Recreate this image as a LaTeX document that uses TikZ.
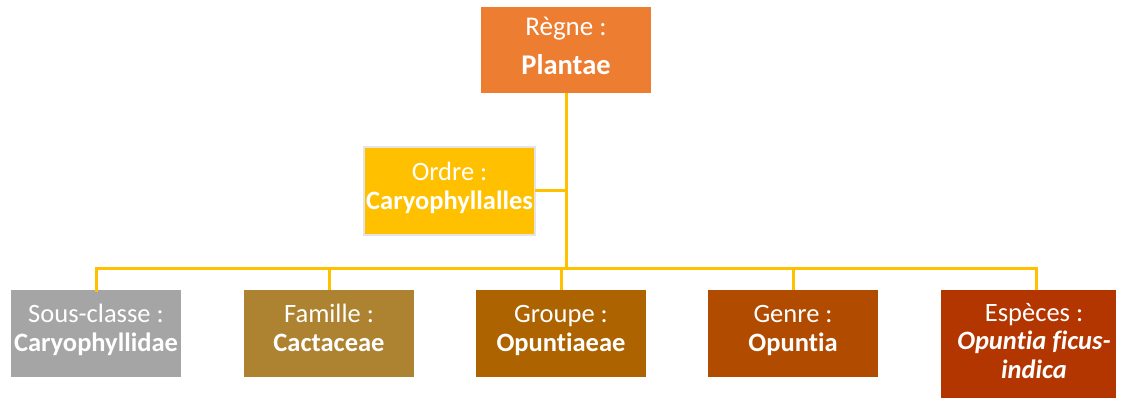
\documentclass[tikz,border=0pt]{standalone}
\usepackage{fontspec}
\setmainfont{Carlito}[Ligatures=NoCommon]
\definecolor{cOrange}{HTML}{ED7D31}
\definecolor{cGold}{HTML}{FFC000}
\definecolor{cGray}{HTML}{A5A5A5}
\definecolor{cFam}{HTML}{AD8231}
\definecolor{cGrp}{HTML}{AD6300}
\definecolor{cGen}{HTML}{B04B00}
\definecolor{cEsp}{HTML}{B33600}
\definecolor{cLine}{HTML}{FFC000}
\definecolor{cBord}{HTML}{E4E4E4}
\tikzset{
  box/.style={rectangle, inner sep=0pt, outer sep=0pt},
  lbl/.style={inner sep=0pt, outer sep=0pt, text=white, align=center, anchor=base,
    font=\fontsize{26.5}{28.5}\selectfont},
  conn/.style={draw=cLine, line width=3pt}
}
\begin{document}
\begin{tikzpicture}[x=1pt,y=-1pt]
\useasboundingbox (0,0) rectangle (1121,398);
% top
\node[box, fill=cOrange, minimum width=170pt, minimum height=86pt] (plantae) at (566,50) {};
\node[lbl] (plantaetxt) at (566,75)
  {{\fontsize{27}{29}\selectfont R\`egne :}\\[11pt]{\fontsize{28.5}{29}\selectfont\bfseries Plantae}};
\node[box, fill=cGold, draw=cBord, line width=2.5pt, minimum width=171pt, minimum height=88pt] (ordre) at (449.5,191) {};
\node[lbl] (ordretxt) at (449.5,209) {Ordre :\\{\bfseries Caryophyllalles}};
% bottom
\node[box, fill=cGray, minimum width=170pt, minimum height=87pt] (sc) at (96,333.5) {};
\node[lbl] (sctxt) at (96,351) {Sous-classe :\\{\bfseries Caryophyllidae}};
\node[box, fill=cFam, minimum width=170pt, minimum height=87pt] (fam) at (329,333.5) {};
\node[lbl] (famtxt) at (329,351) {Famille :\\{\bfseries Cactaceae}};
\node[box, fill=cGrp, minimum width=170pt, minimum height=87pt] (grp) at (561,333.5) {};
\node[lbl] (grptxt) at (561,351) {Groupe :\\{\bfseries Opuntiaeae}};
\node[box, fill=cGen, minimum width=170pt, minimum height=87pt] (gen) at (793,333.5) {};
\node[lbl] (gentxt) at (793,351) {Genre :\\{\bfseries Opuntia}};
\node[box, fill=cEsp, minimum width=175pt, minimum height=110pt, anchor=north west] (esp) at (941,290) {};
\node[lbl] (esptxt) at (1034,378)
  {Esp\`eces :\\{\bfseries\itshape Opuntia ficus-}\\{\bfseries\itshape indica}};
% connectors
\coordinate (j) at (566,268);
\coordinate (e) at (1036,268);
\draw[conn] (plantae.south) -- (j);
\draw[conn] (ordre.east) -- (ordre.east -| j);
\draw[conn, line cap=rect] (sc.north) |- (e);
\draw[conn] (fam.north) -- (fam.north |- j);
\draw[conn] (grp.north) -- (grp.north |- j);
\draw[conn] (gen.north) -- (gen.north |- j);
\draw[conn] (e) -- (e |- esp.north);
\end{tikzpicture}
\end{document}
